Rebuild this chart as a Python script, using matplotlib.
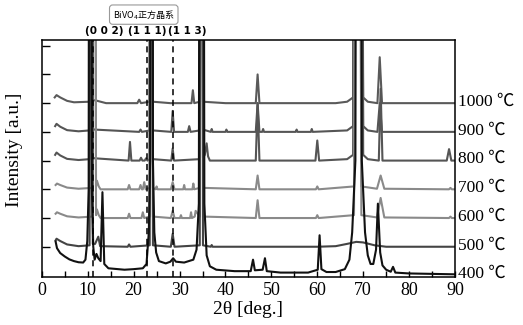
#!/usr/bin/env python3
# XRD patterns of BiVO4 at different calcination temperatures

import matplotlib
matplotlib.use('Agg')
import matplotlib.pyplot as plt
import matplotlib.transforms as mtransforms
from matplotlib.ticker import MultipleLocator

plt.rcParams['font.family'] = ['Liberation Serif', 'Noto Sans CJK SC']

# ---------------------------------------------------------------------------
# data: 2theta (deg) and intensity above each baseline
# (peaks that run off the top of the frame are given a large apex value)
# ---------------------------------------------------------------------------
temps = ['400 ℃', '500 ℃', '600 ℃', '700 ℃', '800 ℃', '900 ℃', '1000 ℃']
offsets = [0, 1, 2, 3, 4, 5, 6]
colors = ['#111111', '#444444', '#8a8a8a', '#8a8a8a', '#555555', '#555555', '#5a5a5a']

tt_400 = [3.0, 3.3, 4.0, 5.0, 6.0, 7.0, 8.0, 9.0, 9.5, 9.9, 10.2, 10.55, 10.9, 11.2, 11.5,
          11.9, 12.3, 12.8, 13.2, 13.6, 14.5, 18.0, 20.0, 22.0, 22.8, 23.3, 23.6, 23.9,
          24.2, 24.5, 24.9, 25.5, 27.0, 28.0, 28.6, 29.2, 31.0, 33.0, 33.7, 34.2, 34.8,
          35.4, 35.9, 36.6, 38.0, 42.0, 45.5, 46.0, 46.4, 48.1, 48.6, 49.0, 52.0, 58.0,
          60.1, 60.5, 60.9, 62.0, 64.0, 66.0, 67.0, 67.6, 68.3, 69.0, 69.7, 70.4, 71.0,
          71.6, 72.2, 72.8, 73.2, 73.7, 74.2, 75.0, 76.0, 76.5, 77.0, 80.0, 90.0]
int_400 = [1.18, 0.95, 0.78, 0.66, 0.56, 0.5, 0.46, 0.45, 0.55, 1.2, 3.0, 60, 3.0, 1.0, 0.55,
           0.75, 0.6, 0.5, 2.9, 0.4, 0.25, 0.2, 0.22, 0.25, 0.4, 1.5, 4.0, 60,
           4.0, 1.5, 0.8, 0.5, 0.42, 0.48, 0.6, 0.48, 0.45, 0.55, 0.9, 2.5, 60,
           2.5, 0.7, 0.32, 0.2, 0.15, 0.15, 0.55, 0.18, 0.2, 0.6, 0.15, 0.1, 0.1,
           0.2, 1.4, 0.22, 0.12, 0.12, 0.22, 0.55, 1.5, 4.0, 60, 4.0, 1.5, 0.7,
           0.4, 0.4, 0.9, 2.5, 0.8, 0.35, 0.2, 0.13, 0.3, 0.1, 0.07, 0.04]

tt_500 = [3.0, 3.2, 4.0, 5.5, 8.0, 10.4, 10.75, 11.1, 11.6, 12.3, 12.7, 18.7, 19.0, 19.3,
          23.5, 23.85, 24.2, 28.1, 28.5, 28.9, 34.4, 34.75, 35.1, 36.8, 37.0, 37.2,
          60.0, 64.0, 66.5, 68.5, 70.0, 72.5, 75.0, 90.0]
int_500 = [0.22, 0.28, 0.2, 0.08, 0.02, 0.05, 40, 0.1, 0.1, 0.35, 0.02, 0.0, 0.08, 0.0,
           0.05, 40, 0.05, 0.0, 0.45, 0.0, 0.05, 40, 0.05, 0.0, 0.06, 0.0,
           0.0, 0.02, 0.1, 0.17, 0.15, 0.05, 0.0, 0.0]

tt_600 = [3.0, 3.3, 4.0, 5.5, 8.0, 11.0, 11.4, 11.8, 12.0, 12.4, 12.8, 18.7, 19.0, 19.3,
          21.7, 22.0, 22.3, 23.5, 23.85, 24.2, 28.1, 28.5, 28.9, 30.1, 30.3, 30.5,
          32.3, 32.5, 32.7, 33.3, 33.5, 34.4, 34.8, 35.2, 46.6, 47.0, 47.4, 59.7, 60.0,
          60.3, 68.0, 68.8, 69.6, 73.0, 73.8, 74.6, 88.7, 89.0, 89.3, 90.0]
int_600 = [0.15, 0.2, 0.15, 0.06, 0.02, 0.05, 40, 0.1, 0.3, 0.1, 0.0, 0.0, 0.15, 0.0,
           0.0, 0.2, 0.0, 0.05, 40, 0.05, 0.0, 0.25, 0.0, 0.0, 0.1, 0.0,
           0.0, 0.2, 0.0, 0.05, 0.25, 0.05, 40, 0.05, 0.0, 0.62, 0.0, 0.0, 0.1,
           0.0, 0.1, 40, 0.1, 0.02, 0.7, 0.02, 0.0, 0.05, 0.0, 0.0]

tt_700 = [3.0, 3.3, 4.0, 5.5, 8.0, 11.0, 11.4, 11.8, 12.0, 12.4, 12.8, 18.7, 19.0, 19.3,
          21.2, 21.5, 21.8, 22.0, 22.3, 22.6, 23.5, 23.85, 24.2, 24.8, 25.0, 25.2,
          28.1, 28.5, 28.9, 30.8, 31.0, 31.2, 32.8, 33.0, 33.2, 34.4, 34.8, 35.2,
          46.6, 47.0, 47.4, 59.7, 60.0, 60.3, 68.0, 68.8, 69.6, 73.0, 73.8, 74.6,
          88.7, 89.0, 89.3, 90.0]
int_700 = [0.15, 0.2, 0.15, 0.06, 0.02, 0.05, 40, 0.1, 0.3, 0.1, 0.0, 0.0, 0.15, 0.0,
           0.0, 0.15, 0.0, 0.0, 0.25, 0.0, 0.05, 40, 0.05, 0.0, 0.1, 0.0,
           0.0, 0.25, 0.0, 0.0, 0.15, 0.0, 0.0, 0.2, 0.0, 0.05, 40, 0.05,
           0.0, 0.48, 0.0, 0.0, 0.1, 0.0, 0.1, 40, 0.1, 0.02, 0.48, 0.02,
           0.0, 0.05, 0.0, 0.0]

tt_800 = [2.9, 3.2, 4.0, 5.5, 8.0, 10.4, 10.75, 11.1, 11.5, 18.9, 19.2, 19.5, 21.3, 21.6,
          21.9, 22.4, 22.7, 23.0, 23.5, 23.85, 24.2, 28.2, 28.5, 28.8, 34.4, 34.75,
          35.1, 35.5, 35.9, 36.2, 36.6, 46.6, 47.0, 47.4, 59.6, 60.0, 60.4, 66.5, 67.8,
          68.9, 70.0, 71.0, 73.4, 73.8, 74.2, 88.2, 88.7, 89.2, 90.0]
int_800 = [0.2, 0.28, 0.18, 0.06, 0.02, 0.05, 40, 0.1, 0.08, 0.0, 0.65, 0.0, 0.0, 0.1,
           0.0, 0.0, 0.08, 0.0, 0.05, 40, 0.05, 0.0, 0.42, 0.0, 0.05, 40,
           0.1, 0.2, 0.6, 0.15, 0.0, 0.0, 2.0, 0.0, 0.0, 0.7, 0.0, 0.05, 0.2,
           40, 0.2, 0.05, 0.0, 2.5, 0.0, 0.0, 0.4, 0.0, 0.0]

tt_900 = [2.9, 3.2, 4.0, 5.5, 8.0, 10.4, 10.75, 11.1, 11.5, 21.2, 21.5, 21.8, 23.5, 23.85,
          24.2, 28.2, 28.5, 28.8, 31.8, 32.1, 32.4, 34.4, 34.75, 35.1, 36.8, 37.0, 37.2,
          40.0, 40.2, 40.4, 46.6, 47.0, 47.4, 48.0, 48.2, 48.4, 55.3, 55.5, 55.7, 58.6,
          58.8, 59.0, 66.5, 67.8, 68.9, 70.0, 71.0, 73.1, 73.6, 74.1, 90.0]
int_900 = [0.2, 0.28, 0.18, 0.06, 0.02, 0.05, 40, 0.1, 0.08, 0.0, 0.08, 0.0, 0.05, 40,
           0.05, 0.0, 0.73, 0.0, 0.0, 0.2, 0.0, 0.05, 40, 0.08, 0.0, 0.1, 0.0,
           0.0, 0.08, 0.0, 0.0, 1.0, 0.0, 0.0, 0.1, 0.0, 0.0, 0.08, 0.0, 0.0,
           0.1, 0.0, 0.05, 0.2, 40, 0.2, 0.05, 0.0, 1.0, 0.0, 0.0]

tt_1000 = [2.8, 3.2, 4.0, 5.5, 7.0, 10.4, 10.75, 11.1, 11.6, 14.0, 20.8, 21.2, 21.6, 23.5,
           23.85, 24.2, 28.0, 32.6, 32.9, 33.2, 34.4, 34.75, 35.1, 40.0, 46.6, 47.0,
           47.4, 55.0, 64.0, 66.5, 67.8, 68.9, 70.0, 71.0, 73.1, 73.6, 74.1, 80.0, 90.0]
int_1000 = [0.2, 0.28, 0.2, 0.08, 0.03, 0.05, 40, 0.1, 0.1, 0.0, 0.0, 0.12, 0.0, 0.05,
            40, 0.05, 0.0, 0.0, 0.45, 0.0, 0.05, 40, 0.05, 0.0, 0.0, 1.0,
            0.0, 0.0, 0.0, 0.05, 0.2, 40, 0.2, 0.05, 0.0, 1.6, 0.0, 0.0, 0.0]

two_theta = [tt_400, tt_500, tt_600, tt_700, tt_800, tt_900, tt_1000]
intensity = [int_400, int_500, int_600, int_700, int_800, int_900, int_1000]

# reference lines of tetragonal BiVO4
ref_pos = [11.1, 22.8, 28.6]
ref_labels = ['(0 0 2)', '(1 1 1)', '(1 1 3)']
ref_label_x = [13.6, 23.0, 31.7]

# ---------------------------------------------------------------------------
fig = plt.figure(figsize=(5.23, 3.25), dpi=100)
ax = fig.add_axes([0.080, 0.148, 0.790, 0.729])

# draw from the top trace down so the black 400 trace sits on top
for i in range(len(temps) - 1, -1, -1):
    y = [v + offsets[i] for v in intensity[i]]
    ax.plot(two_theta[i], y, color=colors[i], lw=1.5, solid_joinstyle='round')

for p in ref_pos:
    ax.axvline(p, color='k', ls=(0, (4, 3)), lw=1.1)

ax.set_xlim(0, 90)
ax.set_ylim(-0.05, 8.2)
ax.xaxis.set_major_locator(MultipleLocator(10))
ax.xaxis.set_minor_locator(MultipleLocator(5))
ax.set_yticks(range(1, 9))
ax.set_yticklabels([])
ax.tick_params(axis='both', which='both', direction='in', length=4, width=1)
ax.tick_params(axis='x', labelsize=13, pad=4)
ax.tick_params(axis='y', length=6)
for s in ax.spines.values():
    s.set_linewidth(1.1)

ax.set_xlabel('2θ [deg.]', fontsize=14, labelpad=1)
ax.set_ylabel('Intensity [a.u.]', fontsize=14)
ax.yaxis.set_label_coords(-0.045, 0.535)

# temperature labels right of the axes
trans_r = mtransforms.blended_transform_factory(ax.transAxes, ax.transData)
for i, t in enumerate(temps):
    ax.text(1.008, offsets[i] + 0.05, t, transform=trans_r, fontsize=12.5,
            family=['Liberation Serif', 'Noto Sans CJK SC'], va='center', ha='left')

# hkl labels and the phase box above the axes
trans_t = mtransforms.blended_transform_factory(ax.transData, fig.transFigure)
for xl, lab in zip(ref_label_x, ref_labels):
    ax.text(xl, 0.905, lab, transform=trans_t, fontsize=7.5, fontweight='bold',
            family=['DejaVu Sans'], ha='center', va='center')
ax.text(22.2, 0.955, 'BiVO$_4$正方晶系', transform=trans_t, fontsize=6.5,
        family=['Noto Sans CJK SC', 'DejaVu Sans'], ha='center', va='center',
        bbox=dict(boxstyle='round,pad=0.35', fc='white', ec='#999999', lw=0.8))

fig.savefig('out.png', dpi=100, facecolor='w')
plt.close()
